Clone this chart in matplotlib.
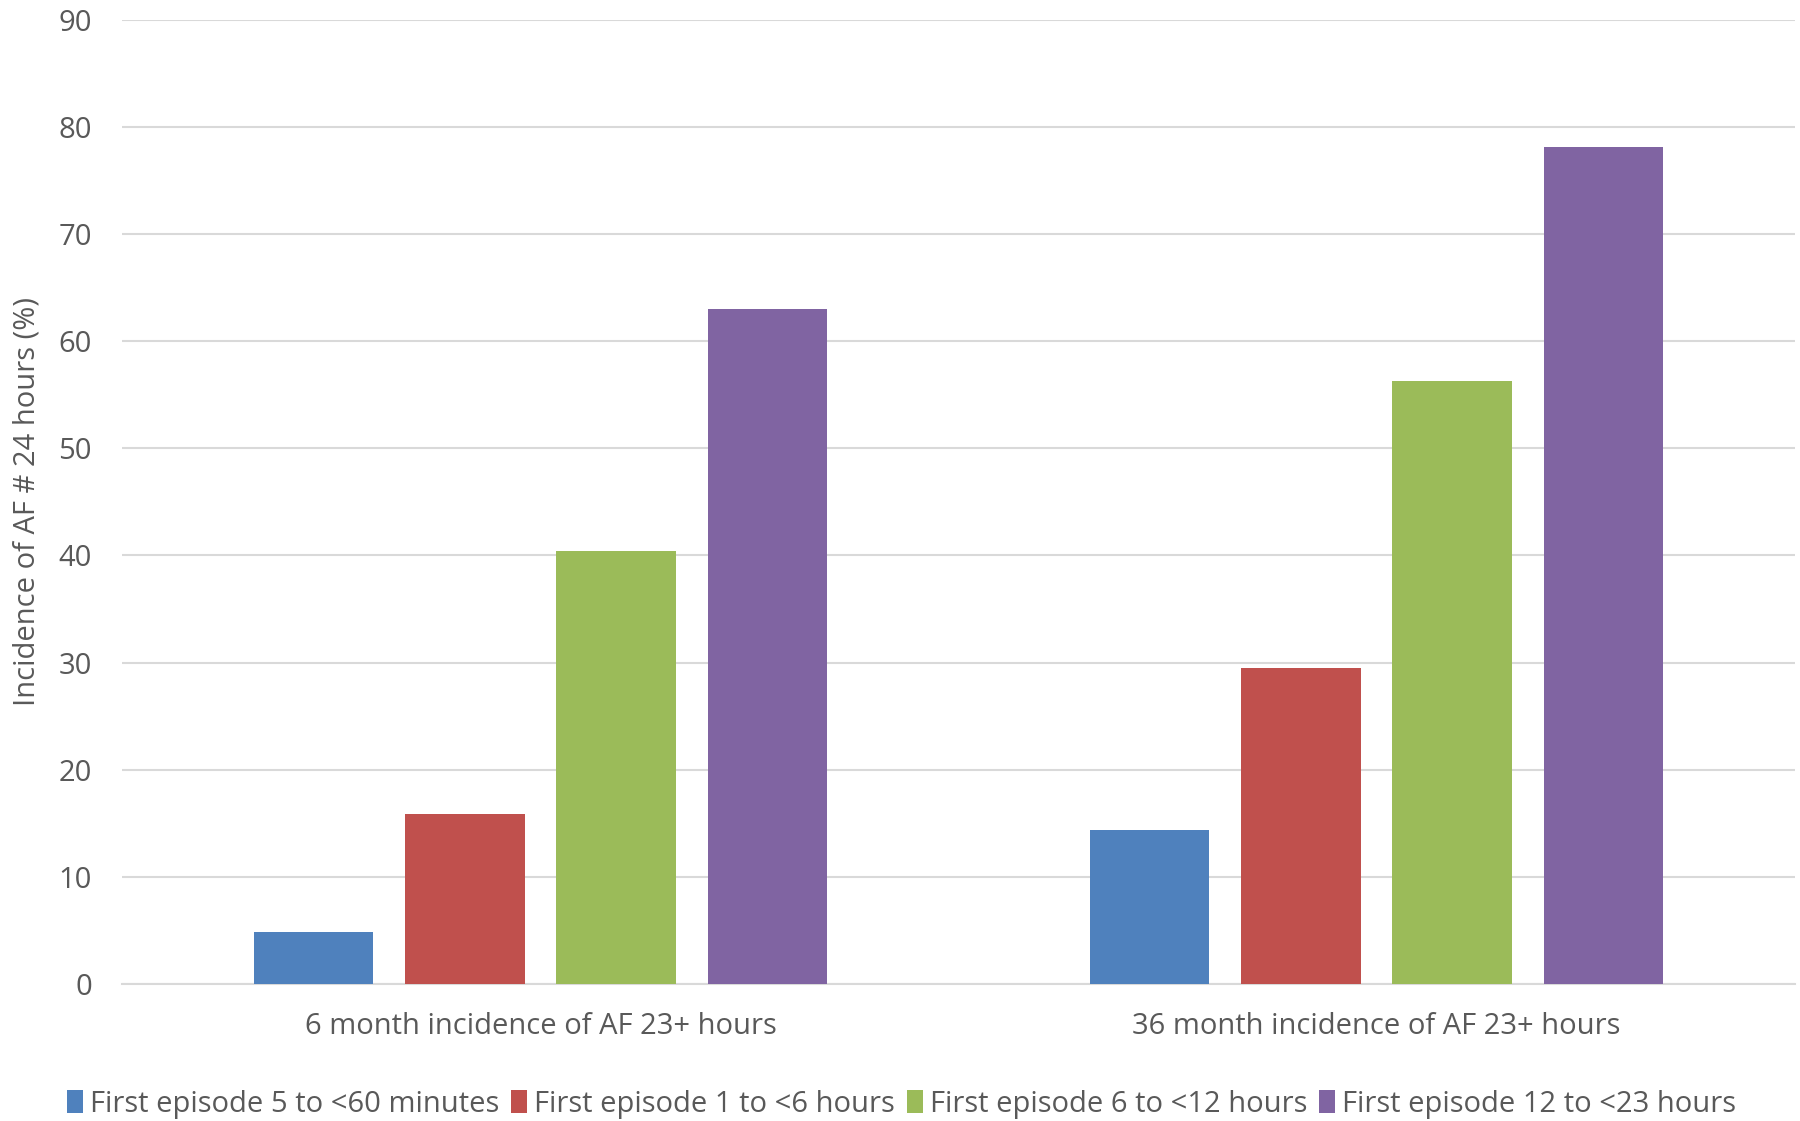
import numpy as np
import matplotlib
matplotlib.use('Agg')
import matplotlib.pyplot as plt

categories = ["6 month incidence of AF 23+ hours", "36 month incidence of AF 23+ hours"]
series = ["First episode 5 to <60 minutes", "First episode 1 to <6 hours",
          "First episode 6 to <12 hours", "First episode 12 to <23 hours"]
values = [
    [4.9, 14.4],
    [15.9, 29.5],
    [40.4, 56.3],
    [63.0, 78.1],
]
colors = ["#4F81BD", "#C0504D", "#9BBB59", "#8064A2"]
yticks = [0, 10, 20, 30, 40, 50, 60, 70, 80, 90]

plt.rcParams['font.family'] = ['Open Sans', 'DejaVu Sans']
text_col = '#595959'
fs = 21

fig = plt.figure(figsize=(18, 11.21), dpi=100)
ax = fig.add_axes([0.068, 0.122, 0.929, 0.8606])

x = np.arange(len(categories))
step = 0.181
width = 0.143
for i, (name, vals) in enumerate(zip(series, values)):
    ax.bar(x + (i - 1.5) * step, vals, width, color=colors[i], label=name, zorder=3)

ax.set_xlim(-0.5, 1.5)
ax.set_ylim(0, 90)
ax.set_yticks(yticks)
ax.set_xticks(x)
ax.set_xticklabels(categories)
ax.grid(axis='y', color='#D9D9D9', linewidth=1.5, zorder=0)
for s in ['top', 'right', 'left']:
    ax.spines[s].set_visible(False)
ax.spines['bottom'].set_color('#D9D9D9')
ax.spines['bottom'].set_linewidth(1.5)
ax.tick_params(axis='both', length=0, labelsize=fs, colors=text_col)
ax.tick_params(axis='y', pad=22)
ax.tick_params(axis='x', pad=20)
ax.set_ylabel("Incidence of AF # 24 hours (%)", fontsize=fs, color=text_col, labelpad=12)

ax.legend(loc='upper center', bbox_to_anchor=(0.466, -0.082), ncol=4, frameon=False,
          fontsize=fs, labelcolor=text_col, handlelength=0.55, handleheight=0.8,
          handletextpad=0.25, columnspacing=0.4)

fig.savefig('out.png', dpi=100)
